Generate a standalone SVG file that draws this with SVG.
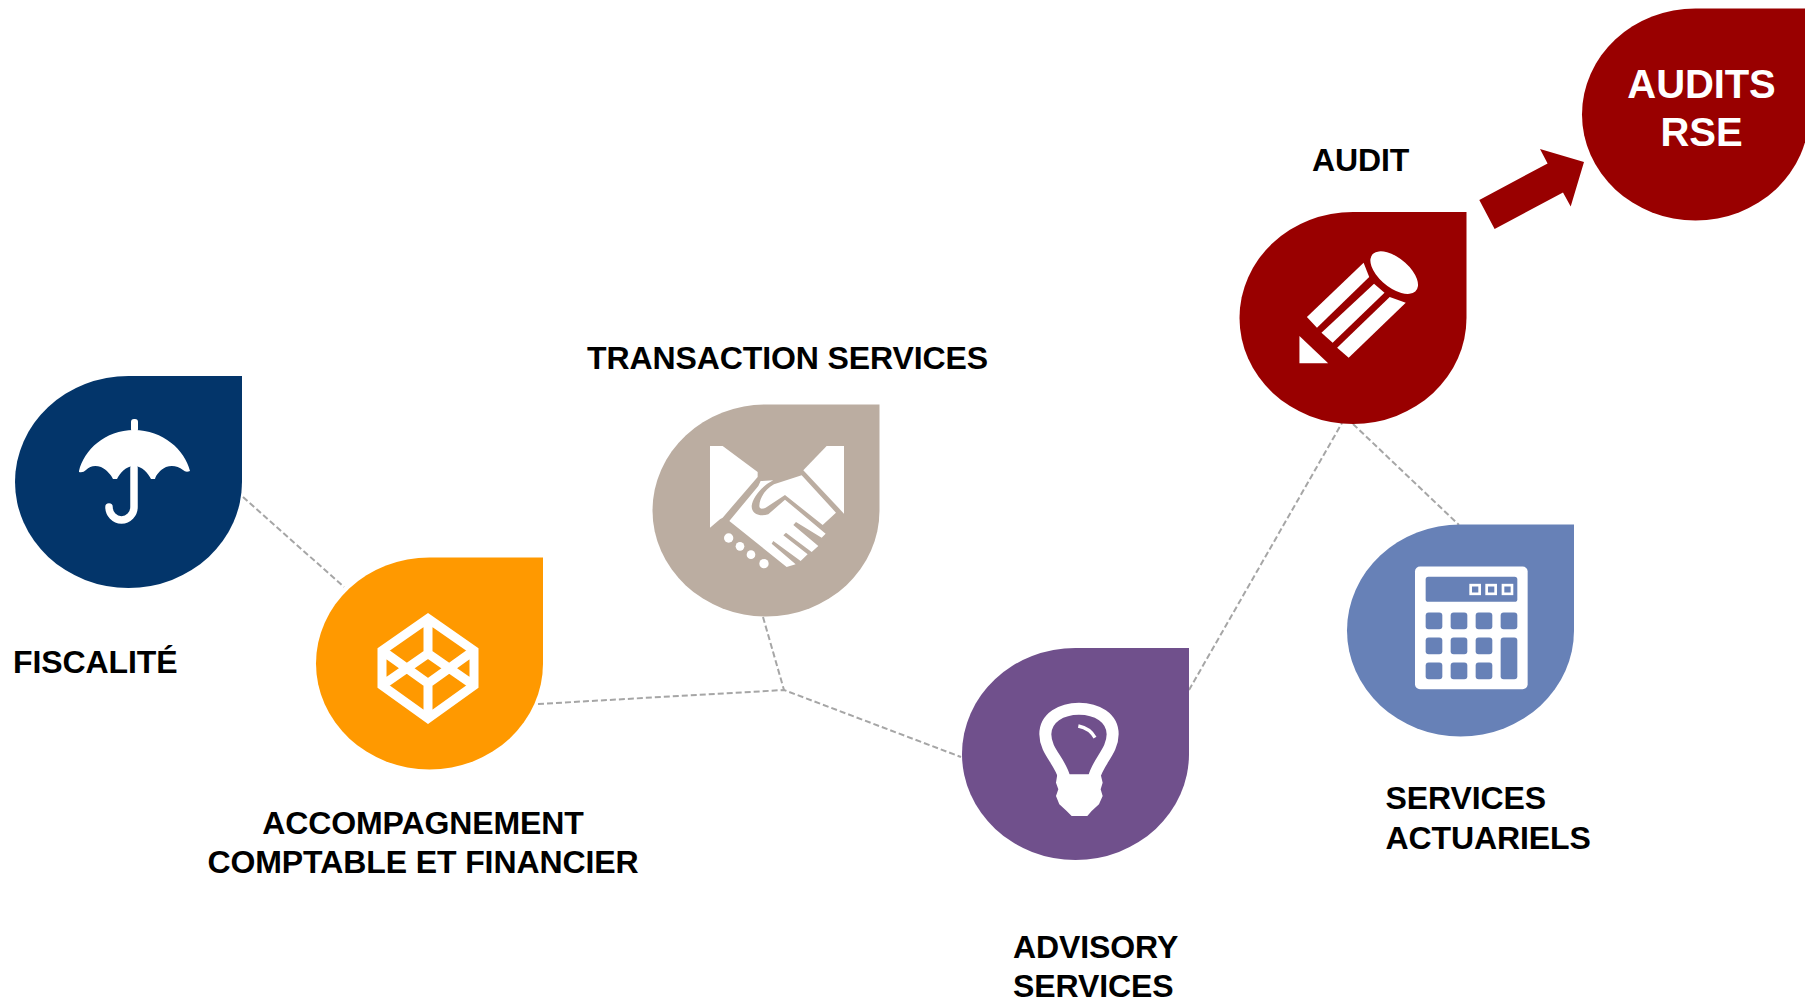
<svg xmlns="http://www.w3.org/2000/svg" xmlns:xlink="http://www.w3.org/1999/xlink" width="1805" height="1001" viewBox="0 0 1805 1001">
<style>
text{font-family:"Liberation Sans",Arial,sans-serif;font-weight:700;font-size:32px;fill:#000;letter-spacing:-.1px}
.rse{font-size:40px;fill:#fff;text-anchor:middle}
.mid{text-anchor:middle}
.conn{fill:none;stroke:#a6a6a6;stroke-width:2;stroke-dasharray:6 3}
.w{fill:#fff}
.ws{fill:none;stroke:#fff}
</style>
<defs>
<path id="drop" d="M113.5,0H227V106A113.5,106 0 0 1 0,106A113.5,106 0 0 1 113.5,0Z"/>
</defs>
<rect width="1805" height="1001" fill="#fff"/>
<g id="connectors">
<path class="conn" d="M243,497L344,587"/>
<path class="conn" d="M538,704L784,690L961,757"/>
<path class="conn" d="M763,617L784,690"/>
<path class="conn" d="M1189,690L1342,423"/>
<path class="conn" d="M1353,424L1459,525"/>
<path fill="#990000" d="M1479.3,200L1547.6,163.5L1540,149L1584,162L1570.7,206.5L1563,192.5L1494.6,229Z"/>
</g>
<g id="fiscalite">
<use href="#drop" x="15" y="376" fill="#03356a"/>
<rect class="w" x="131" y="419" width="7" height="13" rx="3"/>
<path class="w" d="M79,471C84,450 105,430 134,430C163,430 185,450 190,471Q186,473 183,470C178,466 172,465 166,467C160,470 156,475 155,479H151C148,473 142,466 134,466C126,466 120,473 117,479H113C111,475 107,470 101,467C95,465 90,466 86,470Q83,473 79,472Z"/>
<path class="ws" stroke-width="7.5" stroke-linecap="round" d="M134,468V507A12.5,13 0 0 1 109,507"/>
<text x="13" y="673">FISCALITÉ</text>
</g>
<g id="accompagnement">
<use href="#drop" x="316" y="557.5" fill="#ff9900"/>
<path class="ws" stroke-width="9" stroke-linejoin="miter" d="M428,618.5L474,650.5V685.5L428,718.5L382,685.5V650.5ZM428,618.5V653.5M428,718.5V683.5M382,650.5L428,683.5L474,650.5M382,685.5L428,653.5L474,685.5"/>
<text class="mid" x="423" y="833.5">ACCOMPAGNEMENT</text>
<text class="mid" x="423" y="872.5">COMPTABLE ET FINANCIER</text>
</g>
<g id="transaction">
<use href="#drop" x="652.5" y="404.5" fill="#bbada1"/>
<g transform="translate(630,391) scale(.3333)" class="w">
<path d="M240,165H278L383,243V258L278,380L270,385L240,410Z"/>
<path d="M590,165H642V368L520,238Z"/>
<path d="M388,345C388,318 410,292 432,280L515,253L618,365L578,402L465,312L415,345C405,353 388,358 388,345Z"/>
<path d="M298,390L385,285L392,270L430,268C395,285 368,320 365,345C365,370 390,378 415,370L465,326L587,428L575,440L498,393L490,402L565,465L545,483L468,425L460,433L533,490L512,510L430,450L425,458L497,520L470,528Z"/>
<circle cx="296" cy="441" r="14"/><circle cx="330" cy="466" r="13"/><circle cx="363" cy="491" r="13"/><circle cx="402" cy="518" r="14"/>
</g>
<text x="587" y="369">TRANSACTION SERVICES</text>
</g>
<g id="advisory">
<use href="#drop" x="962" y="648" fill="#70508c"/>
<g transform="translate(950,641) scale(.3333)">
<path class="ws" stroke-width="36" d="M343,410C330,360 286,330 286,280C286,230 335,203 387,203C440,203 488,230 488,280C488,330 445,360 432,410"/>
<path class="w" d="M322,400H452L458,425L452,445L458,465L447,490L425,510L412,525H365L350,510L328,490L318,465L325,445L318,425Z"/>
<path class="ws" stroke-width="10" d="M385,255Q420,262 435,290"/>
</g>
<text x="1013" y="958">ADVISORY</text>
<text x="1013" y="997">SERVICES</text>
</g>
<g id="services-actuariels">
<use href="#drop" x="1347" y="524.5" fill="#6781b7"/>
<g transform="translate(1340,520.5) scale(.3333)" fill="#6781b7">
<rect class="w" x="225" y="138" width="338" height="368" rx="15"/>
<rect x="257" y="169" width="275" height="75" rx="8"/>
<g class="ws" stroke-width="8"><rect x="392" y="194" width="27" height="26"/><rect x="440" y="194" width="27" height="26"/><rect x="489" y="194" width="27" height="26"/></g>
<rect x="257" y="276" width="50" height="50" rx="9"/><rect x="332" y="276" width="50" height="50" rx="9"/><rect x="407" y="276" width="50" height="50" rx="9"/><rect x="482" y="276" width="50" height="50" rx="9"/>
<rect x="257" y="351" width="50" height="50" rx="9"/><rect x="332" y="351" width="50" height="50" rx="9"/><rect x="407" y="351" width="50" height="50" rx="9"/><rect x="482" y="351" width="50" height="125" rx="9"/>
<rect x="257" y="426" width="50" height="50" rx="9"/><rect x="332" y="426" width="50" height="50" rx="9"/><rect x="407" y="426" width="50" height="50" rx="9"/>
</g>
<text x="1385.5" y="809">SERVICES</text>
<text x="1385.5" y="848.5">ACTUARIELS</text>
</g>
<g id="audit">
<use href="#drop" x="1239.5" y="212" fill="#990000"/>
<g transform="translate(1220,1) scale(.373,.3333)" class="w">
<ellipse cx="467" cy="815" rx="80" ry="42" transform="rotate(45 467 815)"/>
<path d="M385,785L400,828L260,980L233,948Z"/>
<path d="M413,848L441,875L302,1025L272,995Z"/>
<path d="M455,888L498,905L345,1070L314,1040Z"/>
<path d="M213,1005L290,1087H213Z"/>
</g>
<text x="1312" y="171">AUDIT</text>
</g>
<g id="audits-rse">
<use href="#drop" x="1582" y="8.5" fill="#990000"/>
<text class="rse" x="1701.5" y="98">AUDITS</text>
<text class="rse" x="1701.5" y="145.5">RSE</text>
</g>
</svg>
